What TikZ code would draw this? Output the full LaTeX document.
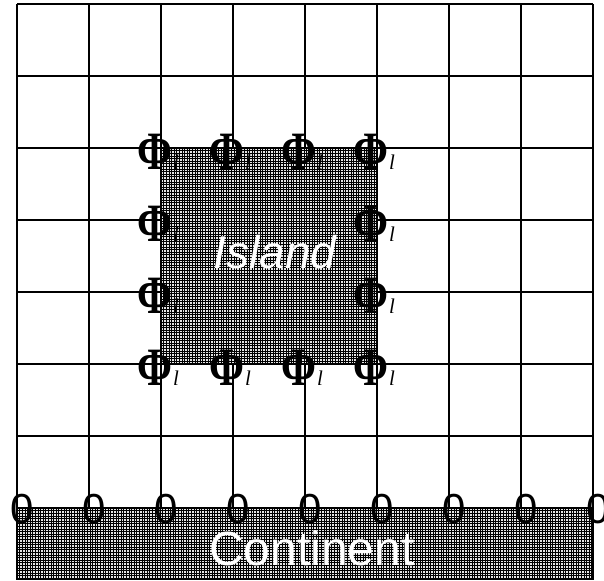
\documentclass[tikz,border=0pt]{standalone}
\usepackage{graphicx}
\usepackage{fontspec}
\setmainfont{Liberation Serif}
\newfontfamily\sansf{Liberation Sans}
\newcommand\PhiL{\scalebox{0.78}[1]{\fontsize{54}{54}\selectfont\bfseries Φ}\kern1pt{\fontsize{21}{21}\selectfont\itshape l}}
\begin{document}
\begin{tikzpicture}[x=1pt,y=-1pt,
  gridline/.style={line width=1.3pt, black},
  hatchbg/.style={fill=black!10},
  hatchline/.style={line width=0.42pt, black},
  border/.style={line width=1.2pt, black},
  phil/.style={inner sep=0pt, anchor=base},
  zero/.style={inner sep=0pt, anchor=base, font=\sansf\fontsize{42}{42}\selectfont},
  biglabel/.style={inner sep=0pt, anchor=base, text=white}]
\useasboundingbox (0,0) rectangle (604,580);
\fill[white] (0,0) rectangle (604,580);
% grid
\foreach \y in {4,76,...,508} \draw[gridline] (17,\y) -- (593,\y);
\foreach \x in {17,89,...,593} \draw[gridline] (\x,4) -- (\x,508);
% island
\fill[hatchbg] (161,148) rectangle (377,364);
\foreach \x in {161,163.6,...,377} \draw[hatchline] (\x,148) -- (\x,364);
\foreach \y in {148,150.6,...,364} \draw[hatchline] (161,\y) -- (377,\y);
\draw[border] (161,148) rectangle (377,364);
% continent
\fill[hatchbg] (17,508) rectangle (593,579);
\foreach \x in {17,19.6,...,593} \draw[hatchline] (\x,508) -- (\x,579);
\foreach \y in {508,510.6,...,579} \draw[hatchline] (17,\y) -- (593,\y);
\draw[border] (17,508) rectangle (593,579);
% labels
\node[biglabel, font=\sansf\itshape\fontsize{46}{46}\selectfont] (island) at (275,268) {Island};
\node[biglabel, font=\sansf\fontsize{48}{48}\selectfont] (continent) at (312,565) {Continent};
% Phi_l boundary values
\foreach \x [count=\i] in {161,233,305,377} {
  \node[phil] (top\i) at (\x-3,169) {\PhiL};
  \node[phil] (bot\i) at (\x-3,385) {\PhiL};
}
\foreach \y [count=\i] in {220,292} {
  \node[phil] (left\i) at (158,\y+21) {\PhiL};
  \node[phil] (right\i) at (374,\y+21) {\PhiL};
}
% zeros on continent boundary
\foreach \x [count=\i] in {17,89,...,593} {
  \node[zero] (z\i) at (\x+5,523) {0};
}
\end{tikzpicture}
\end{document}
